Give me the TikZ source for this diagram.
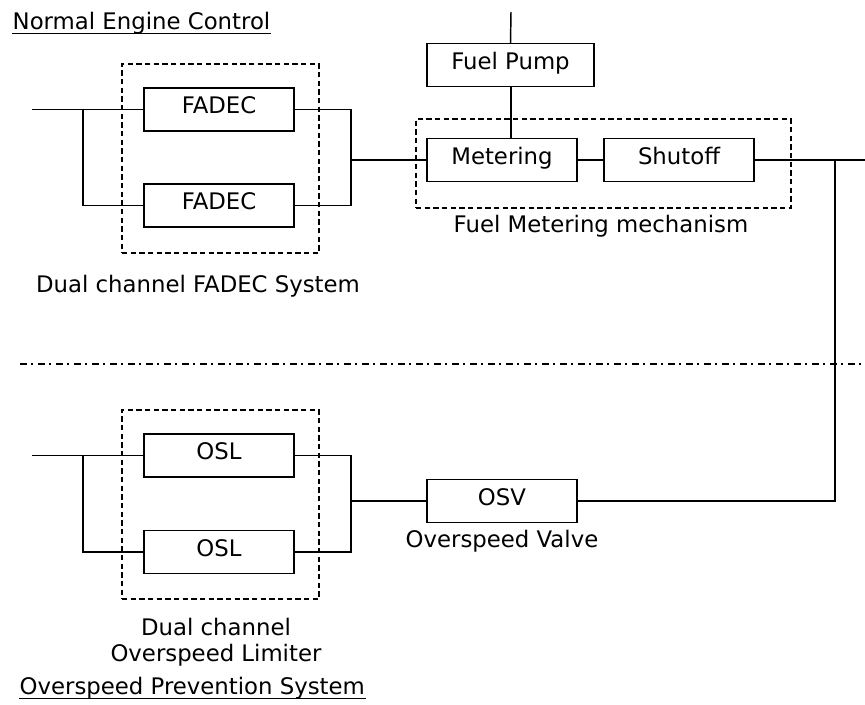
\documentclass[tikz,border=0pt]{standalone}
\usepackage{fontspec}
\setmainfont{DejaVu Sans}
\usetikzlibrary{positioning}
\begin{document}
\begin{tikzpicture}[x=0.75pt,y=-0.75pt,
  line width=1.1pt,
  every node/.style={font=\fontsize{17.1}{20}\selectfont},
  blk/.style={draw, line width=1.1pt, rectangle, minimum width=112.5pt, minimum height=32.25pt, inner sep=0pt, outer sep=0pt, text height=14pt, text depth=7.5pt},
  grp/.style={draw, dashed, dash pattern=on 4pt off 2.5pt, line width=1.1pt, rectangle, inner sep=0pt, outer sep=0pt},
  lbl/.style={anchor=base, inner sep=0pt},
  wire/.style={line width=1.1pt},
  uline/.style={line width=0.9pt}
]
\useasboundingbox (0,0) rectangle (865,705);

% group boxes
\node[grp, minimum width=147.75pt, minimum height=141.75pt] (g1) at (220.5,158.5) {};
\node[grp, minimum width=281.25pt, minimum height=66.75pt] (g2) at (603.5,163.5) {};
\node[grp, minimum width=147.75pt, minimum height=141.75pt] (g3) at (220.5,504.5) {};

% blocks
\node[blk] (f1) at (219,109.5) {FADEC};
\node[blk] (f2) at (219,205.5) {FADEC};
\node[blk, minimum width=125.25pt] (fp) at (510.5,65) {Fuel Pump};
\node[blk] (me) at (502,160) {Metering};
\node[blk] (sh) at (679,160) {Shutoff};
\node[blk] (o1) at (219,455.5) {OSL};
\node[blk] (o2) at (219,552) {OSL};
\node[blk] (ov) at (502,501) {OSV};

% coordinates
\coordinate (in1) at (32,109.5);
\coordinate (b1) at (83,109.5);
\coordinate (j1) at (351,160);
\coordinate (tp) at (511,12);
\coordinate (out) at (865,160);
\coordinate (jr) at (835,160);
\coordinate (in2) at (32,455.5);
\coordinate (b2) at (83,455.5);
\coordinate (j2) at (351,501);
\coordinate (dl) at (20,364);
\coordinate (dr) at (865,364);

% wires
\draw[wire] (in1) -- (f1.west);
\draw[wire] (b1) |- (f2.west);
\draw[wire] (f1.east) -| (j1) |- (f2.east);
\draw[wire] (j1) -- (j1 -| me.west);
\draw[wire] (tp) -- (fp.north);
\draw[wire] (fp.south -| tp) -- (me.north -| tp);
\draw[wire] (me.east) -- (sh.west);
\draw[wire] (sh.east) -- (out);
\draw[wire] (jr) |- (ov.east);

\draw[wire] (in2) -- (o1.west);
\draw[wire] (b2) |- (o2.west);
\draw[wire] (o1.east) -| (j2) |- (o2.east);
\draw[wire] (j2) -- (ov.west);

\draw[line width=1.1pt, dash pattern=on 5pt off 3.5pt on 1.5pt off 3.5pt] (dl) -- (dr);

% labels
\node[lbl, anchor=base west] (t1) at (12,30) {Normal Engine Control};
\draw[uline] ([yshift=-2.5pt]t1.base west) -- ([yshift=-2.5pt]t1.base east);
\node[lbl] (t2) at (198,293) {Dual channel FADEC System};
\node[lbl] (t3) at (601,233) {Fuel Metering mechanism};
\node[lbl] (t4) at (502,548) {Overspeed Valve};
\node[lbl, align=center] (t5) at (216,662) {Dual channel\\Overspeed Limiter};
\node[lbl, anchor=base west] (t6) at (19,695) {Overspeed Prevention System};
\draw[uline] ([yshift=-2.5pt]t6.base west) -- ([yshift=-2.5pt]t6.base east);
\end{tikzpicture}
\end{document}
